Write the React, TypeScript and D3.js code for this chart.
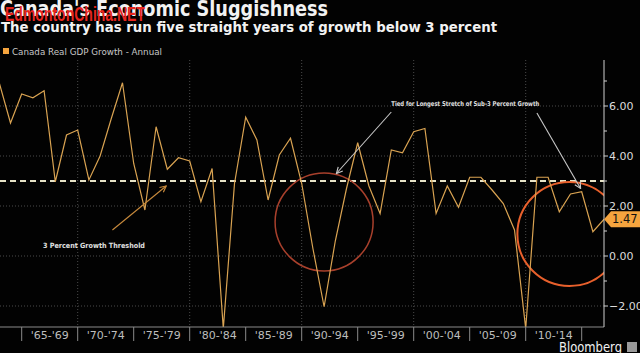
import React from 'react'
import * as d3 from 'd3'

// annual real GDP growth, %
const years = [
  1962, 1963, 1964, 1965, 1966, 1967, 1968, 1969, 1970, 1971,
  1972, 1973, 1974, 1975, 1976, 1977, 1978, 1979, 1980, 1981,
  1982, 1983, 1984, 1985, 1986, 1987, 1988, 1989, 1990, 1991,
  1992, 1993, 1994, 1995, 1996, 1997, 1998, 1999, 2000, 2001,
  2002, 2003, 2004, 2005, 2006, 2007, 2008, 2009, 2010, 2011,
  2012, 2013, 2014, 2015, 2016
]
const growth = [
  6.92, 5.32, 6.48, 6.33, 6.61, 2.97, 4.84, 5.04, 3.04, 4.0,
  5.5, 6.93, 3.7, 1.84, 5.17, 3.47, 3.93, 3.8, 2.17, 3.5,
  -2.9, 2.9, 5.55, 4.64, 2.24, 4.04, 4.71, 2.9, 0.3, -2.03,
  0.6, 2.7, 4.53, 2.8, 1.7, 4.24, 4.13, 4.97, 5.1, 1.7,
  2.8, 1.95, 3.15, 3.15, 2.64, 2.1, 1.04, -2.9, 3.15, 3.15,
  1.77, 2.48, 2.57, 0.97, 1.47
]
const periodStarts = [1965, 1970, 1975, 1980, 1985, 1990, 1995, 2000, 2005, 2010]
const periodLabels = ["'65-'69", "'70-'74", "'75-'79", "'80-'84", "'85-'89", "'90-'94", "'95-'99", "'00-'04", "'05-'09", "'10-'14"]
const yMajor = [-2, 0, 2, 4, 6]
const yMinor = [-1, 1, 3, 5, 7]
const threshold = 3
const lastValue = 1.47

// annotations in data units: [time, value]
const circles = [
  { t: 1992.0, v: 1.36, r: 49, color: '#a8402c', w: 1.5 },
  { t: 2013.9, v: 0.88, r: 52, color: '#e8602c', w: 2 }
]
const arrows = [
  { from: [1998.0, 5.76], to: [1993.1, 3.3], color: '#c8c8c8' },
  { from: [2011.0, 5.72], to: [2014.9, 2.7], color: '#c8c8c8' },
  { from: [1973.1, 1.04], to: [1977.9, 2.8], color: '#c88a3c' }
]

const W = 640, H = 353
const plot = { left: 0, right: 604, top: 60, bottom: 327 }

export default function App() {
  // each annual value sits at the end of its year
  const x = d3.scaleLinear().domain([1965, 2015]).range([21.7, 581.7])
  const y = d3.scaleLinear().domain([-2, 6]).range([306, 106])

  const line = d3.line<number>()
    .x((_, i) => x(years[i] + 1))
    .y(d => y(d))

  const gridX = periodStarts.filter(p => p % 10 === 0)
  const tickXs = [...periodStarts, 2015]
  const sans = 'DejaVu Sans, sans-serif'
  const fmt = d3.format('.2f')

  return (
    <svg width={W} height={H} style={{ position: 'fixed', left: 0, top: 0, display: 'block', background: '#020202' }}>
      <defs>
        <clipPath id="plotClip">
          <rect x={plot.left} y={plot.top} width={plot.right - plot.left} height={plot.bottom - plot.top} />
        </clipPath>
        {arrows.map((a, i) => (
          <marker key={i} id={`ah${i}`} viewBox="0 0 10 10" refX="9" refY="5" markerWidth="7" markerHeight="7" orient="auto">
            <path d="M1,1 L9,5 L1,9" fill="none" stroke={a.color} strokeWidth="1.5" />
          </marker>
        ))}
      </defs>
      <rect width={W} height={H} fill="#020202" />

      {/* grid */}
      {gridX.map(t => (
        <line key={t} x1={x(t)} x2={x(t)} y1={plot.top} y2={plot.bottom} stroke="#4a4a4a" strokeDasharray="1,2" />
      ))}
      {yMajor.map(v => (
        <line key={v} x1={plot.left} x2={plot.right} y1={y(v)} y2={y(v)} stroke="#4a4a4a" strokeDasharray="1,2" />
      ))}

      {/* threshold */}
      <line x1={plot.left} x2={plot.right} y1={y(threshold)} y2={y(threshold)} stroke="#e6e2c6" strokeWidth={2} strokeDasharray="6,4" />

      <g clipPath="url(#plotClip)">
        {circles.map((c, i) => (
          <circle key={i} cx={x(c.t)} cy={y(c.v)} r={c.r} fill="none" stroke={c.color} strokeWidth={c.w} />
        ))}
        <path d={line(growth) || ''} fill="none" stroke="#d9a352" strokeWidth={1.2} />
      </g>

      {/* arrows */}
      {arrows.map((a, i) => (
        <line key={i} x1={x(a.from[0])} y1={y(a.from[1])} x2={x(a.to[0])} y2={y(a.to[1])}
          stroke={a.color} strokeWidth={1.1} markerEnd={`url(#ah${i})`} />
      ))}
      <text x={x(1998.0)} y={y(6.0)} fontFamily={sans} fontWeight="bold" fontSize={6.6} fill="#e0e0e0"
        textLength={148} lengthAdjust="spacingAndGlyphs">Tied for Longest Stretch of Sub-3 Percent Growth</text>
      <text x={x(1966.9)} y={y(0.34)} fontFamily={sans} fontWeight="bold" fontSize={7.2} fill="#e0e0e0"
        textLength={102} lengthAdjust="spacingAndGlyphs">3 Percent Growth Threshold</text>

      {/* x axis */}
      <line x1={plot.left} x2={plot.right} y1={plot.bottom} y2={plot.bottom} stroke="#8a8a8a" />
      {tickXs.map(t => (
        <line key={t} x1={x(t)} x2={x(t)} y1={plot.bottom} y2={plot.bottom + 14} stroke="#8a8a8a" />
      ))}
      {periodStarts.map((t, i) => (
        <text key={t} x={x(t + 2.5)} y={plot.bottom + 12} textAnchor="middle" fontFamily={sans} fontSize={11} fill="#bdbdbd">
          {periodLabels[i]}
        </text>
      ))}

      {/* right axis */}
      <line x1={plot.right} x2={plot.right} y1={plot.top} y2={plot.bottom} stroke="#cfcfcf" />
      {yMinor.map(v => (
        <line key={v} x1={plot.right} x2={plot.right + 3} y1={y(v)} y2={y(v)} stroke="#cfcfcf" />
      ))}
      {yMajor.map(v => (
        <g key={v}>
          <line x1={plot.right} x2={plot.right + 4} y1={y(v)} y2={y(v)} stroke="#cfcfcf" />
          <text x={plot.right + 5} y={y(v)} dy="0.36em" fontFamily={sans} fontSize={11} fill="#dcdcdc">
            {fmt(v)}
          </text>
        </g>
      ))}

      {/* last value tag */}
      <path d={`M${plot.right},${y(lastValue)} L${plot.right + 7},${y(lastValue) - 8} L${W},${y(lastValue) - 8} L${W},${y(lastValue) + 8} L${plot.right + 7},${y(lastValue) + 8} Z`}
        fill="#f5a43e" />
      <text x={plot.right + 8} y={y(lastValue)} dy="0.36em" fontFamily={sans} fontSize={11.5} fill="#111">
        {fmt(lastValue)}
      </text>

      {/* titles */}
      <text x={0} y={16} fontFamily={sans} fontWeight="bold" fontSize={21} fill="#f2f2f2"
        textLength={328} lengthAdjust="spacingAndGlyphs">Canada's Economic Sluggishness</text>
      <text x={1} y={32} fontFamily={sans} fontWeight="bold" fontSize={14} fill="#f2f2f2"
        textLength={496} lengthAdjust="spacingAndGlyphs">The country has run five straight years of growth below 3 percent</text>
      <text x={5} y={21} fontFamily="Liberation Sans, sans-serif" fontWeight="bold" fontSize={20} fill="#e8251e"
        textLength={140} lengthAdjust="spacingAndGlyphs">EdmontonChina.NET</text>

      {/* legend */}
      <rect x={3} y={48} width={6} height={6} fill="#f5a43e" />
      <text x={12} y={55} fontFamily={sans} fontSize={9.5} fill="#c8c8c8"
        textLength={150} lengthAdjust="spacingAndGlyphs">Canada Real GDP Growth - Annual</text>

      {/* footer */}
      <text x={559} y={352} fontFamily={sans} fontSize={14} fill="#f0f0f0"
        textLength={63} lengthAdjust="spacingAndGlyphs">Bloomberg</text>
      <rect x={627} y={342} width={10} height={10} fill="#9a9a9a" />
    </svg>
  )
}
